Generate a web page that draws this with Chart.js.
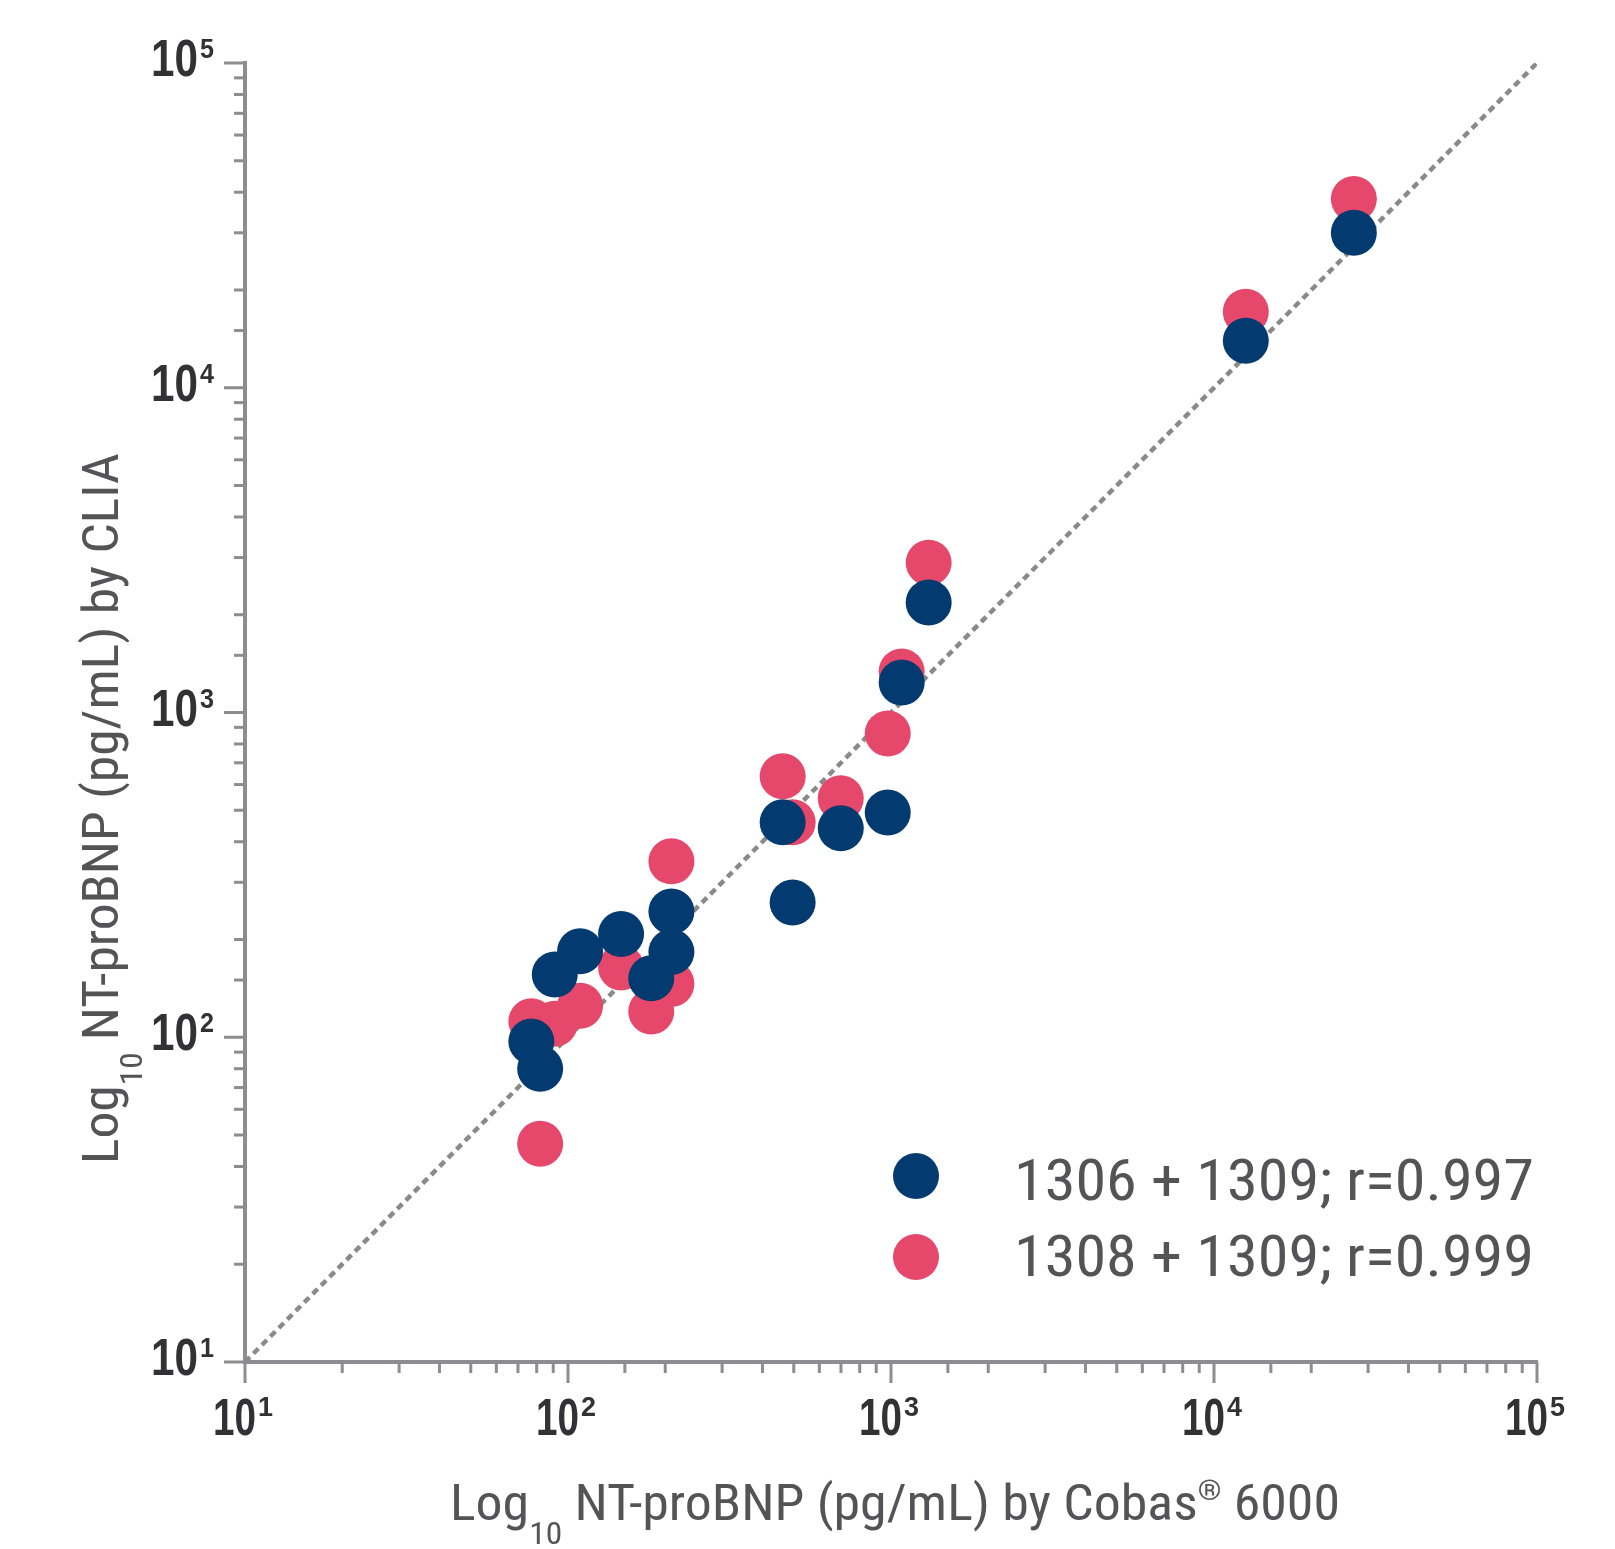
<!DOCTYPE html>
<html>
<head>
<meta charset="utf-8">
<script src="https://cdn.jsdelivr.net/npm/chart.js@4.4.1/dist/chart.umd.min.js"></script>
<style>
    html, body { margin: 0; padding: 0; background: #fff; }
    canvas { display: block; }
</style>
</head>
<body>
<canvas id="chart" width="1615" height="1549"></canvas>
<script>
// NT-proBNP by Cobas 6000 (x) against the CLIA antibody pairs (y)
const cobasValues = [77, 82, 91, 109, 146, 209, 209, 181, 462, 496, 699, 977, 1079, 1308, 12545, 27100];
const pair1306 = [97, 80, 156, 184, 208, 244, 183, 152, 459, 260, 440, 492, 1237, 2180, 13950, 29990];
const pair1308 = [112, 47, 110, 125, 164, 348, 146, 120, 636, 459, 544, 862, 1337, 2893, 17130, 38150];
const identityLine = [10, 100000];

const seriesLabels = ['1306 + 1309; r=0.997', '1308 + 1309; r=0.999'];
const decadeTicks = [10, 100, 1000, 10000, 100000];
const decadeExponents = ['1', '2', '3', '4', '5'];

const NAVY = '#033b70';
const PINK = '#e5486a';
const AXIS_GREY = '#8c8c91';
const TEXT_GREY = '#545456';
const NARROW = "'Liberation Sans Narrow', 'Roboto Condensed', 'DejaVu Sans Condensed', 'Liberation Sans', sans-serif";
const TICK_FONT = "'Liberation Sans', 'Open Sans', sans-serif";

function isDecade(v) {
    const l = Math.log10(v);
    return Math.abs(l - Math.round(l)) < 1e-9;
}

// draw a run of text pieces (sub/superscripts), squeezed to a target width
function drawRuns(ctx, runs, x, y, targetWidth) {
    let total = 0;
    for (const r of runs) {
        ctx.font = `${r.weight || 'normal'} ${r.size}px ${r.family}`;
        r.w = ctx.measureText(r.text).width;
        total += r.w;
    }
    const sx = targetWidth ? targetWidth / total : 1;
    ctx.save();
    ctx.translate(x, y);
    ctx.scale(sx, 1);
    let cx = 0;
    for (const r of runs) {
        ctx.font = `${r.weight || 'normal'} ${r.size}px ${r.family}`;
        ctx.fillText(r.text, cx, r.dy || 0);
        cx += r.w;
    }
    ctx.restore();
}

const decorPlugin = {
    id: 'decor',
    afterDraw(chart) {
        const { ctx, chartArea, scales: { x, y } } = chart;
        ctx.save();

        // tick marks, longer at the decades
        ctx.strokeStyle = AXIS_GREY;
        ctx.lineWidth = 3;
        for (const t of y.ticks) {
            const py = y.getPixelForValue(t.value);
            const len = isDecade(t.value) ? 21 : 11;
            ctx.beginPath();
            ctx.moveTo(chartArea.left - len, py);
            ctx.lineTo(chartArea.left, py);
            ctx.stroke();
        }
        for (const t of x.ticks) {
            const px = x.getPixelForValue(t.value);
            const len = isDecade(t.value) ? 21 : 11;
            ctx.beginPath();
            ctx.moveTo(px, chartArea.bottom);
            ctx.lineTo(px, chartArea.bottom + len);
            ctx.stroke();
        }

        // 10^n tick labels
        ctx.fillStyle = '#323234';
        ctx.textBaseline = 'alphabetic';
        decadeTicks.forEach((v, i) => {
            const py = y.getPixelForValue(v);
            drawRuns(ctx, [
                { text: '10', size: 51, family: TICK_FONT, weight: 'bold' },
            ], chartArea.left - 94, py + 13, 47);
            drawRuns(ctx, [
                { text: decadeExponents[i], size: 28, family: TICK_FONT, weight: 'bold' },
            ], chartArea.left - 45, py - 5, 14);

            const px = x.getPixelForValue(v);
            drawRuns(ctx, [
                { text: '10', size: 51, family: TICK_FONT, weight: 'bold' },
            ], px - 32, chartArea.bottom + 73, 43);
            drawRuns(ctx, [
                { text: decadeExponents[i], size: 28, family: TICK_FONT, weight: 'bold' },
            ], px + 13, chartArea.bottom + 54, 15);
        });

        // axis titles
        ctx.fillStyle = TEXT_GREY;
        drawRuns(ctx, [
            { text: 'Log', size: 50, family: NARROW },
            { text: '10', size: 31, family: NARROW, dy: 24 },
            { text: ' NT-proBNP (pg/mL) by Cobas', size: 50, family: NARROW },
            { text: '®', size: 28, family: NARROW, dy: -20 },
            { text: ' 6000', size: 50, family: NARROW },
        ], 450, chartArea.bottom + 158, 890);

        ctx.save();
        ctx.translate(118, 1164);
        ctx.rotate(-Math.PI / 2);
        drawRuns(ctx, [
            { text: 'Log', size: 50, family: NARROW },
            { text: '10', size: 31, family: NARROW, dy: 24 },
            { text: ' NT-proBNP (pg/mL) by CLIA', size: 50, family: NARROW },
        ], 0, 0, 711);
        ctx.restore();

        // legend in the lower right of the plot
        [NAVY, PINK].forEach((c, i) => {
            const cy = 1176 + i * 81;
            ctx.fillStyle = c;
            ctx.beginPath();
            ctx.arc(916, cy, 23, 0, Math.PI * 2);
            ctx.fill();
            ctx.fillStyle = TEXT_GREY;
            drawRuns(ctx, [
                { text: seriesLabels[i], size: 58, family: NARROW },
            ], 1014, 1200 + i * 76, 520);
        });

        ctx.restore();
    }
};

new Chart(document.getElementById('chart'), {
    data: {
        datasets: [
            {
                type: 'scatter',
                label: seriesLabels[0],
                data: cobasValues.map((v, i) => ({ x: v, y: pair1306[i] })),
                backgroundColor: NAVY,
                borderWidth: 0,
                pointRadius: 23,
                order: 1,
            },
            {
                type: 'scatter',
                label: seriesLabels[1],
                data: cobasValues.map((v, i) => ({ x: v, y: pair1308[i] })),
                backgroundColor: PINK,
                borderWidth: 0,
                pointRadius: 23,
                order: 2,
            },
            {
                type: 'line',
                label: 'identity',
                data: identityLine.map(v => ({ x: v, y: v })),
                borderColor: '#8a8a8a',
                borderWidth: 4.5,
                borderDash: [7, 5],
                pointRadius: 0,
                fill: false,
                order: 3,
            },
        ],
    },
    options: {
        responsive: false,
        animation: false,
        layout: { padding: { left: 245, right: 78, top: 63, bottom: 187 } },
        plugins: {
            legend: { display: false },
            tooltip: { enabled: false },
        },
        scales: {
            x: {
                type: 'logarithmic',
                min: 10,
                max: 100000,
                grid: { display: false, drawTicks: false },
                border: { display: true, color: AXIS_GREY, width: 4 },
                ticks: { display: false, autoSkip: false },
                afterFit: (s) => { s.height = 0; },
            },
            y: {
                type: 'logarithmic',
                min: 10,
                max: 100000,
                grid: { display: false, drawTicks: false },
                border: { display: true, color: AXIS_GREY, width: 4 },
                ticks: { display: false, autoSkip: false },
                afterFit: (s) => { s.width = 0; },
            },
        },
    },
    plugins: [decorPlugin],
});
</script>
</body>
</html>
